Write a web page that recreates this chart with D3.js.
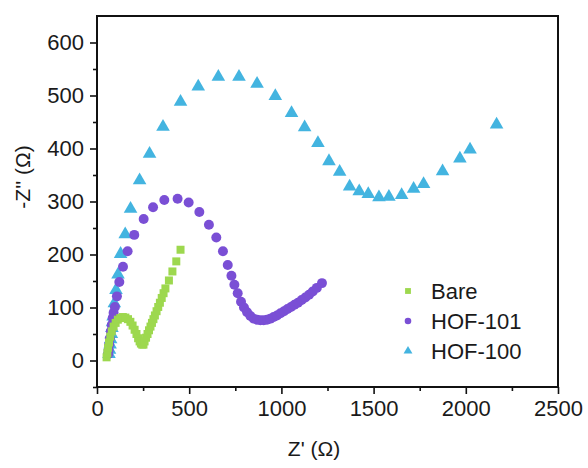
<!DOCTYPE html>
<html>
<head>
<meta charset="utf-8">
<script src="https://cdn.jsdelivr.net/npm/d3@7"></script>
<style>
  body { margin: 0; background: #fff; }
  text { font-family: Arial, "Liberation Sans", sans-serif; fill: #1a1a1a; }
</style>
</head>
<body>
<div id="chart"></div>
<script>
// Nyquist plot values, [Z', -Z'']
var bare = [
  [52, 6], [56, 14], [60, 24], [65, 34], [72, 45], [80, 55], [90, 64], [101, 71],
  [113, 77], [126, 80], [140, 82], [154, 81], [168, 78], [181, 73], [193, 66],
  [204, 58], [214, 50], [223, 42], [231, 36], [238, 32], [245, 30], [252, 30],
  [258, 36], [266, 43], [274, 50], [282, 57], [290, 64], [298, 71], [306, 78],
  [314, 85], [323, 93], [332, 101], [341, 109], [351, 118], [361, 127],
  [371, 136], [390, 151], [409, 168], [430, 187], [453, 209]
]
var hof101 = [
  [60, 12], [63, 20], [66, 30], [70, 42], [75, 55], [80, 67], [85, 80], [90, 90],
  [97, 101], [108, 121], [121, 148], [141, 177], [166, 206], [202, 237], [253, 267],
  [304, 289], [365, 303], [437, 305], [497, 298], [555, 280], [607, 256], [647, 232],
  [683, 206], [709, 180], [729, 160], [745, 143], [763, 127], [781, 111], [797, 100],
  [814, 91], [832, 84], [850, 79], [868, 77], [886, 76], [904, 76], [922, 77],
  [940, 79], [958, 82], [976, 85], [995, 89], [1014, 93], [1033, 97], [1052, 101],
  [1071, 105], [1090, 109], [1110, 114], [1130, 119], [1150, 124], [1170, 130],
  [1192, 137], [1220, 146]
]
var hof100 = [
  [65, 12], [68, 20], [71, 30], [74, 40], [78, 50], [81, 61], [84, 72], [87, 83],
  [94, 108], [103, 133], [114, 162], [128, 201], [153, 238], [182, 286], [231, 340],
  [285, 390], [358, 441], [453, 488], [549, 517], [658, 535], [770, 535], [868, 522],
  [967, 499], [1055, 467], [1126, 440], [1198, 410], [1258, 376], [1316, 356],
  [1370, 328], [1422, 319], [1471, 314], [1529, 308], [1583, 309], [1652, 312],
  [1717, 324], [1771, 333], [1874, 357], [1968, 381], [2023, 398], [2167, 445]
]

var seriesNames = ["Bare", "HOF-101", "HOF-100"]
var seriesColors = ["#9dd84e", "#7a4fd5", "#43b4e0"]
var xTicks = [0, 500, 1000, 1500, 2000, 2500]
var yTicks = [0, 100, 200, 300, 400, 500, 600]

var width = 588, height = 468
var margin = { top: 16, right: 30, bottom: 81, left: 97 }

var svg = d3.select("#chart")
  .append("svg")
  .attr("width", width)
  .attr("height", height)

var x = d3.scaleLinear().domain([0, 2500]).range([margin.left, width - margin.right])
var y = d3.scaleLinear().domain([-50, 650]).range([height - margin.bottom, margin.top])

// minor ticks
svg.append("g")
  .attr("transform", "translate(0," + (height - margin.bottom) + ")")
  .call(d3.axisBottom(x).tickValues(d3.range(250, 2500, 500)).tickSize(4).tickFormat(""))
svg.append("g")
  .attr("transform", "translate(" + margin.left + ",0)")
  .call(d3.axisLeft(y).tickValues(d3.range(-50, 650, 100)).tickSize(4).tickFormat(""))

svg.append("g")
  .attr("transform", "translate(0," + (height - margin.bottom) + ")")
  .call(d3.axisBottom(x).tickValues(xTicks).tickSize(7).tickPadding(6).tickFormat(d3.format("d")))
svg.append("g")
  .attr("transform", "translate(" + margin.left + ",0)")
  .call(d3.axisLeft(y).tickValues(yTicks).tickSize(7).tickPadding(6).tickFormat(d3.format("d")))

svg.selectAll(".domain").remove()
svg.selectAll(".tick line").attr("stroke", "#111").attr("stroke-width", 1.6)
svg.selectAll(".tick text").style("font-size", "22px").attr("fill", "#1a1a1a")

// frame
svg.append("rect")
  .attr("x", x(0))
  .attr("y", y(650))
  .attr("width", x(2500) - x(0))
  .attr("height", y(-50) - y(650))
  .attr("fill", "none")
  .attr("stroke", "#111")
  .attr("stroke-width", 2)

var shapes = [d3.symbolSquare, d3.symbolCircle, d3.symbolTriangle]
var sizes = [64, 78, 80]
var allData = [bare, hof101, hof100]

// draw HOF-100 first so the others sit on top like in the picture
;[2, 1, 0].forEach(function(i) {
  svg.append("g")
    .selectAll("path")
    .data(allData[i])
    .enter()
    .append("path")
    .attr("d", d3.symbol().type(shapes[i]).size(sizes[i]))
    .attr("transform", function(d) { return "translate(" + x(d[0]) + "," + y(d[1]) + ")" })
    .attr("fill", seriesColors[i])
})

// legend
var legend = svg.append("g").attr("transform", "translate(408,291)")
seriesNames.forEach(function(name, i) {
  var g = legend.append("g").attr("transform", "translate(0," + (i * 30) + ")")
  g.append("path")
    .attr("d", d3.symbol().type(shapes[i]).size(34))
    .attr("fill", seriesColors[i])
  g.append("text")
    .attr("x", 23)
    .attr("dy", "0.36em")
    .style("font-size", "22px")
    .text(name)
})

// axis titles
svg.append("text")
  .attr("x", 314)
  .attr("y", 456)
  .attr("text-anchor", "middle")
  .style("font-size", "21px")
  .text("Z' (Ω)")

svg.append("text")
  .attr("transform", "translate(30,177) rotate(-90)")
  .attr("text-anchor", "middle")
  .style("font-size", "21px")
  .text("-Z'' (Ω)")
</script>
</body>
</html>
